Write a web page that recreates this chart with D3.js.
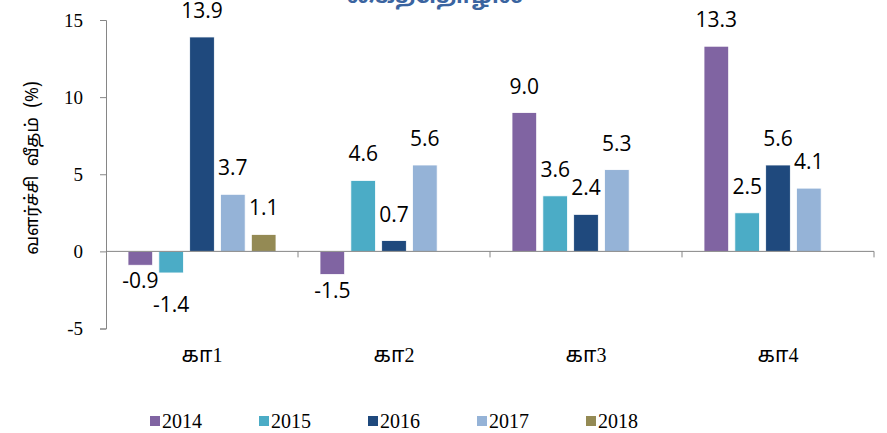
<!DOCTYPE html>
<html>
<head>
<meta charset="utf-8">
<script src="https://cdn.jsdelivr.net/npm/d3@7"></script>
<style>
  html, body { margin: 0; padding: 0; background: #fff; }
  svg { display: block; }
</style>
</head>
<body>
<svg id="chart" width="887" height="433"></svg>
<script>
// ---- data ----
const categories = ["கா1", "கா2", "கா3", "கா4"];
const years = ["2014", "2015", "2016", "2017", "2018"];
const v2014 = [-0.9, -1.5, 9.0, 13.3];
const v2015 = [-1.4, 4.6, 3.6, 2.5];
const v2016 = [13.9, 0.7, 2.4, 5.6];
const v2017 = [3.7, 5.6, 5.3, 4.1];
const v2018 = [1.1, null, null, null];
const yTicks = [-5, 0, 5, 10, 15];
const titleText = "கைத்தொழில்";
const yTitle = "வளர்ச்சி  வீதம்  (%)";
const colors = ["#8064A2", "#4BACC6", "#1F497D", "#95B3D7", "#948A54"];

const seriesValues = [v2014, v2015, v2016, v2017, v2018];
const rows = [];
categories.forEach((c, ci) => {
  years.forEach((yr, si) => {
    const v = seriesValues[si][ci];
    if (v !== null && v !== undefined) rows.push({cat: c, year: yr, value: v, si});
  });
});

const svg = d3.select("#chart");
const axisColor = "#868686";
const serif = "'Liberation Serif', 'Times New Roman', serif";
const tamil = "'Noto Sans Tamil', 'Latha', 'Noto Sans', sans-serif";

const x0 = d3.scaleBand().domain(categories).range([106, 874]).padding(0);
const x1 = d3.scaleBand().domain(years).range([22, 170]).paddingInner(0.2);
const y = d3.scaleLinear().domain([-5, 15]).range([328.5, 20]);

// title (clipped at top)
svg.append("text")
  .attr("x", 435).attr("y", 3)
  .attr("text-anchor", "middle")
  .style("font-family", tamil)
  .style("font-size", "22px")
  .style("font-weight", "bold")
  .style("fill", "#3A64A0")
  .text(titleText);

// y axis
const yAxis = d3.axisLeft(y).tickValues(yTicks).tickSize(6).tickPadding(17)
  .tickFormat(d => String(d));
const gy = svg.append("g").attr("transform", "translate(106,0)").call(yAxis);
gy.select(".domain").attr("stroke", axisColor);
gy.selectAll(".tick line").attr("stroke", axisColor);
gy.selectAll(".tick text")
  .style("font-family", serif).style("font-size", "19px").style("fill", "#000");

// bars
svg.append("g").selectAll("rect").data(rows).join("rect")
  .attr("x", d => x0(d.cat) + x1(d.year))
  .attr("width", x1.bandwidth())
  .attr("y", d => y(Math.max(0, d.value)))
  .attr("height", d => Math.abs(y(d.value) - y(0)))
  .attr("fill", d => colors[d.si])
  .attr("stroke", "#fff").attr("stroke-width", 0.8);

// x axis (at zero)
const xAxis = d3.axisBottom(x0).tickSize(0).tickFormat("");
const gx = svg.append("g").attr("transform", `translate(0,${y(0)})`).call(xAxis);
gx.select(".domain").attr("stroke", axisColor).attr("d", `M106,0H874`);
gx.selectAll(".tick").remove();
const boundaries = categories.map(c => x0(c) + x0.bandwidth());
gx.selectAll("line.bd").data(boundaries).join("line")
  .attr("class", "bd")
  .attr("x1", d => d).attr("x2", d => d)
  .attr("y1", 0).attr("y2", 6)
  .attr("stroke", axisColor);

// category labels (Tamil part slightly larger, digits in serif)
const catText = svg.append("g").selectAll("text").data(categories).join("text")
  .attr("x", d => x0(d) + x0.bandwidth() / 2)
  .attr("y", 362)
  .attr("text-anchor", "middle")
  .style("font-family", serif).style("font-size", "20px");
catText.append("tspan")
  .style("font-family", tamil).style("font-size", "21px")
  .text(d => d.replace(/[0-9]+$/, ""));
catText.append("tspan")
  .text(d => (d.match(/[0-9]+$/) || [""])[0]);

// value labels with simple collision avoidance (tight boxes)
const labelG = svg.append("g");
const placed = [];
const tight = b => ({x: b.x, y: b.y + 5, width: b.width, height: b.height - 10});
const hits = b => placed.some(p => b.x < p.x + p.width && b.x + b.width > p.x &&
                                   b.y < p.y + p.height && b.y + b.height > p.y);
rows.forEach(d => {
  const cx = x0(d.cat) + x1(d.year) + x1.bandwidth() / 2;
  let by = d.value >= 0 ? y(d.value) - 19 : y(d.value) + 23;
  const t = labelG.append("text")
    .attr("x", cx).attr("y", by)
    .attr("text-anchor", "middle")
    .style("font-family", "'Open Sans', 'Noto Sans', sans-serif")
    .style("font-size", "21px")
    .style("fill", "#000")
    .text(d.value.toFixed(1));
  let bb = tight(t.node().getBBox());
  let guard = 0;
  while (hits(bb) && guard < 10) {
    by += d.value >= 0 ? -16 : 16;
    t.attr("y", by);
    bb = tight(t.node().getBBox());
    guard++;
  }
  placed.push(bb);
});

// y axis title
svg.append("text")
  .attr("transform", "translate(38,168) rotate(-90)")
  .attr("text-anchor", "middle")
  .attr("xml:space", "preserve")
  .style("white-space", "pre")
  .style("font-family", tamil).style("font-size", "18px")
  .text(yTitle);

// legend
const legend = svg.append("g").selectAll("g").data(years).join("g")
  .attr("transform", (d, i) => `translate(${150 + i * 109},0)`);
legend.append("rect")
  .attr("x", 0).attr("y", 416).attr("width", 10).attr("height", 10)
  .attr("fill", (d, i) => colors[i]);
legend.append("text")
  .attr("x", 12).attr("y", 428)
  .style("font-family", serif).style("font-size", "20px")
  .text(d => d);
</script>
</body>
</html>
